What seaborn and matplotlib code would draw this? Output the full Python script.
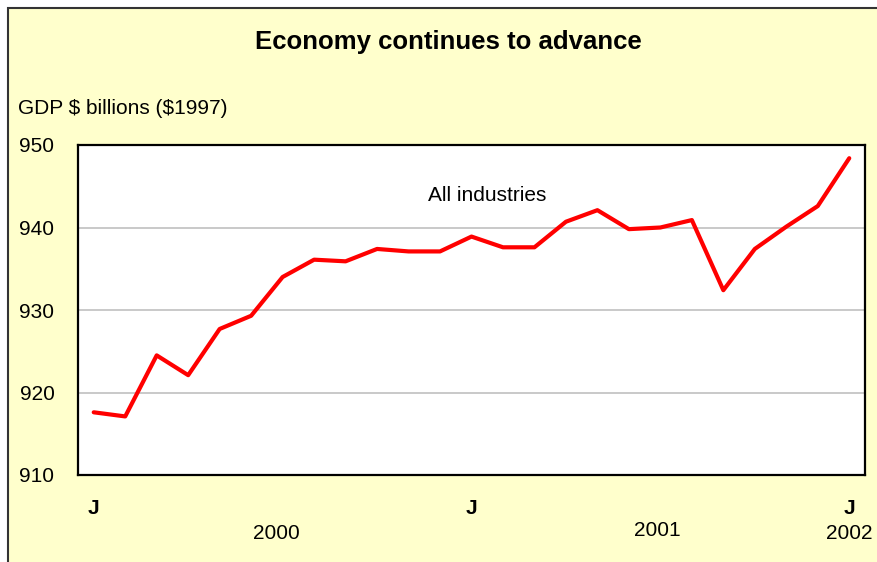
import matplotlib
matplotlib.use("Agg")
import matplotlib.pyplot as plt
import matplotlib.transforms as mtransforms
from matplotlib.patches import Rectangle
import pandas as pd
import seaborn as sns

# Monthly GDP, Jan 2000 - Jan 2002 ($ billions, 1997 dollars)
months = list(range(25))
gdp = [917.6, 917.1, 924.5, 922.1, 927.7, 929.3, 934.0, 936.1, 935.9, 937.4,
       937.1, 937.1, 938.9, 937.6, 937.6, 940.7, 942.1, 939.8, 940.0, 940.9,
       932.4, 937.4, 940.1, 942.6, 948.4]
month_marks = [(0, "J"), (12, "J"), (24, "J")]
year_marks = [(5.8, "2000", -0.176), (17.9, "2001", -0.167), (24, "2002", -0.176)]
y_ticks = [910, 920, 930, 940, 950]

df = pd.DataFrame({"month": months, "gdp": gdp})

sns.set_style("white")
plt.rcParams["font.family"] = ["Liberation Sans", "DejaVu Sans"]
plt.rcParams["text.color"] = "black"
plt.rcParams["xtick.color"] = "black"
plt.rcParams["ytick.color"] = "black"

fig = plt.figure(figsize=(8.77, 5.62), dpi=100)
fig.patch.set_facecolor("white")

# yellow chart panel with dark border on top/left
panel = Rectangle((7.5 / 877, -0.1), 1.2, 1.1 - 7.5 / 562,
                  transform=fig.transFigure, facecolor="#FFFFCC",
                  edgecolor="#333333", linewidth=1.5, zorder=-10)
fig.patches.append(panel)

ax = fig.add_axes([78 / 877, 87 / 562, 787 / 877, 330 / 562])
ax.set_facecolor("white")

sns.lineplot(data=df, x="month", y="gdp", ax=ax, color="#FF0000", linewidth=3.0)

ax.set_xlim(-0.5, 24.5)
ax.set_ylim(910, 950)
ax.set_yticks(y_ticks)
ax.yaxis.grid(True, color="#C0C0C0", linewidth=1.2)
ax.set_axisbelow(True)
ax.tick_params(axis="y", length=0, pad=17, labelsize=15, labelcolor="black")
ax.set_xticks([i + 0.5 for i in months[:-1]])
ax.set_xticklabels([])
ax.tick_params(axis="x", direction="in", length=5, width=1.2, color="black")
ax.set_xlabel("")
ax.set_ylabel("")
for side in ax.spines.values():
    side.set_color("black")
    side.set_linewidth(1.6)

trans = mtransforms.blended_transform_factory(ax.transData, ax.transAxes)
for x, lab in month_marks:
    ax.text(x, -0.1, lab, transform=trans, ha="center", va="center",
            fontsize=15, fontweight="bold", color="black")
for x, lab, y in year_marks:
    ax.text(x, y, lab, transform=trans, ha="center", va="center",
            fontsize=15, color="black")

ax.text(12.5, 943.9, "All industries", ha="center", va="center",
        fontsize=15, color="black")

fig.text(448 / 877, 1 - 42 / 562, "Economy continues to advance",
         ha="center", va="center", fontsize=18.5, fontweight="bold", color="black")
fig.text(18 / 877, 1 - 108 / 562, "GDP \\$ billions (\\$1997)",
         ha="left", va="center", fontsize=15, color="black")

fig.savefig("out.png", dpi=100)
